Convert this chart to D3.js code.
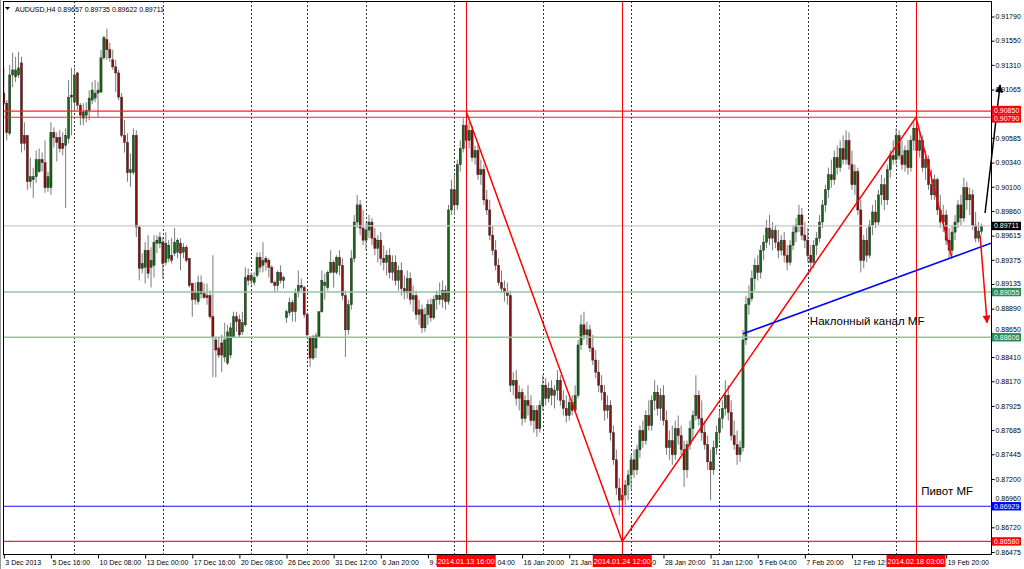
<!DOCTYPE html>
<html><head><meta charset="utf-8">
<script src="https://cdn.jsdelivr.net/npm/d3@7"></script>
<style>body{margin:0;background:#fff}svg{display:block}text{font-family:"Liberation Sans",Arial,sans-serif}</style>
</head><body><svg id="c" width="1024" height="569"></svg>
<script>
// ---- data (AUDUSD H4), one value per candle ----
const open = [0.9103,0.9093,0.9063,0.9121,0.9119,0.9121,0.9133,0.9061,0.9061,0.9015,0.9017,0.9020,0.9025,0.9037,0.9034,0.9009,0.9009,0.9064,0.9059,0.9059,0.9053,0.9051,0.9058,0.9101,0.9094,0.9123,0.9091,0.9078,0.9081,0.9086,0.9096,0.9098,0.9103,0.9104,0.9138,0.9156,0.9146,0.9136,0.9129,0.9123,0.9099,0.9061,0.9054,0.9024,0.9024,0.9061,0.8970,0.8929,0.8930,0.8947,0.8930,0.8932,0.8954,0.8954,0.8955,0.8935,0.8939,0.8942,0.8944,0.8945,0.8954,0.8945,0.8950,0.8939,0.8914,0.8898,0.8896,0.8915,0.8904,0.8902,0.8902,0.8881,0.8858,0.8850,0.8855,0.8841,0.8835,0.8843,0.8861,0.8881,0.8878,0.8866,0.8873,0.8922,0.8917,0.8915,0.8922,0.8940,0.8932,0.8939,0.8937,0.8930,0.8915,0.8912,0.8925,0.8917,0.8880,0.8885,0.8895,0.8886,0.8905,0.8912,0.8910,0.8883,0.8861,0.8840,0.8850,0.8861,0.8886,0.8912,0.8910,0.8925,0.8935,0.8925,
0.8940,0.8932,0.8902,0.8868,0.8893,0.8939,0.8975,0.8992,0.8969,0.8957,
0.8967,0.8975,0.8959,0.8949,0.8957,0.8939,0.8935,0.8942,0.8925,0.8935,
0.8917,0.8927,0.8909,0.8905,0.8919,0.8898,0.8902,0.8883,0.8888,0.8870,
0.8883,0.8893,0.8880,0.8898,0.8902,0.8898,0.8907,0.8896,0.8987,0.9007,
0.8992,0.9032,0.9048,0.9071,0.9056,0.9066,0.9039,0.9046,0.9022,0.9027,
0.8997,0.8987,0.8962,0.8947,0.8932,0.8915,0.8909,0.8905,0.8902,0.8813,
0.8818,0.8800,0.8806,0.8780,0.8798,0.8793,0.8778,0.8788,0.8770,0.8793,
0.8813,0.8800,0.8810,0.8803,0.8808,0.8818,0.8798,0.8790,0.8783,0.8796,
0.8788,0.8803,0.8853,0.8873,0.8863,0.8868,0.8850,0.8838,0.8826,0.8813,
0.8806,0.8788,0.8793,0.8766,0.8739,0.8711,0.8699,0.8704,0.8714,0.8724,
0.8739,0.8729,0.8749,0.8768,0.8758,0.8783,0.8773,0.8798,0.8806,0.8790,
0.8803,0.8778,0.8751,0.8758,0.8744,0.8770,0.8763,0.8749,0.8729,0.8754,
0.8770,0.8783,0.8803,0.8780,0.8766,0.8754,0.8737,0.8729,0.8751,0.8766,
0.8780,0.8790,0.8803,0.8786,0.8763,0.8754,0.8744,0.8751,0.8858,0.8893,
0.8899,0.8919,0.8932,0.8925,0.8947,0.8955,0.8969,0.8959,0.8967,0.8955,
0.8947,0.8957,0.8942,0.8935,0.8952,0.8965,0.8972,0.8982,0.8962,0.8957,
0.8942,0.8935,0.8952,0.8959,0.8975,0.8992,0.9007,0.9022,0.9017,0.9039,
0.9029,0.9048,0.9037,0.9056,0.9032,0.9012,0.9025,0.8987,0.8937,0.8957,
0.8942,0.8972,0.8985,0.8975,0.9002,0.9012,0.8997,0.9027,0.9041,0.9037,
0.9061,0.9041,0.9032,0.9046,0.9029,0.9056,0.9068,0.9046,0.9056,0.9029,
0.9037,0.9012,0.9002,0.9017,0.8987,0.8975,0.8982,0.8957,0.8947,0.8965,
0.8975,0.8992,0.8979,0.9009,0.8997,0.9002,0.8972,0.8959,0.89657];
const high = [0.9128,0.9096,0.9131,0.9143,0.9139,0.9144,0.9139,0.9074,0.9061,0.9039,0.9029,0.9046,0.9048,0.9044,0.9056,0.9025,0.9074,0.9069,0.9064,0.9066,0.9064,0.9068,0.9116,0.9128,0.9128,0.9124,0.9093,0.9093,0.9094,0.9106,0.9114,0.9116,0.9114,0.9146,0.9160,0.9167,0.9153,0.9146,0.9136,0.9126,0.9103,0.9076,0.9063,0.9043,0.9068,0.9066,0.8972,0.8944,0.8955,0.8962,0.8950,0.8962,0.8962,0.8965,0.8960,0.8965,0.8957,0.8959,0.8969,0.8959,0.8959,0.8954,0.8952,0.8939,0.8915,0.8915,0.8922,0.8922,0.8914,0.8914,0.8907,0.8942,0.8860,0.8860,0.8863,0.8875,0.8873,0.8875,0.8886,0.8886,0.8883,0.8886,0.8930,0.8929,0.8925,0.8925,0.8945,0.8945,0.8955,0.8941,0.8939,0.8932,0.8917,0.8927,0.8932,0.8922,0.8888,0.8900,0.8898,0.8909,0.8927,0.8919,0.8912,0.8885,0.8861,0.8863,0.8865,0.8886,0.8927,0.8924,0.8927,0.8947,0.8937,0.8942,
0.8947,0.8939,0.8907,0.8898,0.8947,0.8982,0.9002,0.8997,0.8987,0.8975,
0.8982,0.8979,0.8969,0.8962,0.8965,0.8952,0.8947,0.8949,0.8942,0.8942,
0.8932,0.8935,0.8922,0.8927,0.8925,0.8912,0.8907,0.8898,0.8893,0.8890,
0.8898,0.8899,0.8902,0.8907,0.8915,0.8917,0.8912,0.8992,0.9017,0.9022,
0.9037,0.9056,0.9078,0.9076,0.9074,0.9071,0.9051,0.9051,0.9037,0.9032,
0.9007,0.8997,0.8972,0.8957,0.8939,0.8927,0.8917,0.8915,0.8907,0.8826,
0.8828,0.8813,0.8810,0.8803,0.8813,0.8803,0.8793,0.8793,0.8798,0.8823,
0.8820,0.8816,0.8818,0.8813,0.8828,0.8823,0.8808,0.8803,0.8800,0.8803,
0.8813,0.8858,0.8883,0.8886,0.8876,0.8873,0.8863,0.8848,0.8838,0.8823,
0.8813,0.8803,0.8798,0.8773,0.8749,0.8721,0.8714,0.8719,0.8729,0.8744,
0.8749,0.8754,0.8773,0.8778,0.8788,0.8798,0.8803,0.8818,0.8813,0.8810,
0.8813,0.8788,0.8768,0.8773,0.8778,0.8783,0.8773,0.8758,0.8758,0.8778,
0.8788,0.8823,0.8808,0.8798,0.8778,0.8763,0.8749,0.8758,0.8773,0.8788,
0.8798,0.8818,0.8813,0.8798,0.8778,0.8768,0.8758,0.8868,0.8902,0.8912,
0.8927,0.8939,0.8942,0.8952,0.8962,0.8977,0.8982,0.8975,0.8972,0.8967,
0.8962,0.8965,0.8952,0.8957,0.8972,0.8979,0.8992,0.8989,0.8975,0.8969,
0.8952,0.8957,0.8965,0.8982,0.8997,0.9012,0.9029,0.9037,0.9046,0.9051,
0.9056,0.9061,0.9066,0.9064,0.9046,0.9032,0.9029,0.8997,0.8962,0.8969,
0.8977,0.8992,0.8997,0.9007,0.9022,0.9019,0.9032,0.9046,0.9056,0.9068,
0.9066,0.9056,0.9051,0.9056,0.9061,0.9074,0.9071,0.9064,0.9061,0.9046,
0.9041,0.9027,0.9022,0.9019,0.9002,0.8992,0.8987,0.8969,0.8972,0.8982,
0.8997,0.9002,0.9019,0.9015,0.9009,0.9007,0.8985,0.8975,0.89735];
const low = [0.9091,0.9056,0.9061,0.9109,0.9114,0.9118,0.9044,0.9046,0.9007,0.9009,0.8999,0.9014,0.9024,0.9025,0.9004,0.9005,0.9002,0.9049,0.9035,0.9044,0.9041,0.8989,0.9053,0.9061,0.9086,0.9086,0.9071,0.9071,0.9074,0.9076,0.9092,0.9094,0.9079,0.9103,0.9136,0.9136,0.9134,0.9126,0.9104,0.9096,0.9059,0.9044,0.9015,0.9010,0.9022,0.8960,0.8917,0.8924,0.8914,0.8919,0.8910,0.8920,0.8944,0.8949,0.8919,0.8932,0.8935,0.8934,0.8941,0.8939,0.8927,0.8939,0.8935,0.8910,0.8881,0.8893,0.8893,0.8899,0.8899,0.8893,0.8879,0.8821,0.8821,0.8840,0.8826,0.8836,0.8833,0.8840,0.8860,0.8866,0.8860,0.8863,0.8871,0.8912,0.8913,0.8912,0.8920,0.8925,0.8925,0.8927,0.8920,0.8914,0.8905,0.8907,0.8914,0.8909,0.8875,0.8882,0.8876,0.8876,0.8900,0.8907,0.8880,0.8861,0.8831,0.8838,0.8840,0.8860,0.8885,0.8898,0.8907,0.8924,0.8910,0.8923,
0.8922,0.8898,0.8841,0.8863,0.8888,0.8935,0.8969,0.8962,0.8952,0.8947,
0.8959,0.8952,0.8942,0.8935,0.8932,0.8927,0.8922,0.8919,0.8917,0.8912,
0.8907,0.8902,0.8898,0.8899,0.8893,0.8886,0.8878,0.8873,0.8865,0.8866,
0.8873,0.8876,0.8878,0.8888,0.8893,0.8890,0.8888,0.8893,0.8982,0.8982,
0.8987,0.9025,0.9044,0.9046,0.9048,0.9035,0.9032,0.9017,0.9012,0.8992,
0.8982,0.8957,0.8942,0.8927,0.8912,0.8905,0.8896,0.8893,0.8806,0.8803,
0.8793,0.8788,0.8773,0.8776,0.8783,0.8773,0.8766,0.8762,0.8766,0.8788,
0.8793,0.8796,0.8793,0.8790,0.8798,0.8793,0.8783,0.8776,0.8778,0.8783,
0.8786,0.8800,0.8848,0.8858,0.8853,0.8846,0.8833,0.8820,0.8806,0.8798,
0.8778,0.8780,0.8758,0.8734,0.8704,0.8684,0.8687,0.8694,0.8699,0.8709,
0.8721,0.8724,0.8741,0.8751,0.8754,0.8768,0.8768,0.8788,0.8783,0.8778,
0.8773,0.8744,0.8739,0.8734,0.8739,0.8754,0.8744,0.8712,0.8721,0.8749,
0.8758,0.8778,0.8773,0.8758,0.8749,0.8729,0.8699,0.8724,0.8744,0.8758,
0.8770,0.8783,0.8778,0.8758,0.8749,0.8734,0.8737,0.8747,0.8853,0.8883,
0.8896,0.8907,0.8917,0.8919,0.8937,0.8949,0.8952,0.8947,0.8949,0.8939,
0.8942,0.8935,0.8927,0.8932,0.8947,0.8955,0.8965,0.8957,0.8949,0.8935,
0.8925,0.8929,0.8942,0.8955,0.8969,0.8985,0.8999,0.9009,0.9012,0.9022,
0.9025,0.9032,0.9032,0.9027,0.9007,0.9002,0.8982,0.8925,0.8929,0.8935,
0.8939,0.8962,0.8969,0.8972,0.8992,0.8987,0.8992,0.9019,0.9032,0.9032,
0.9037,0.9027,0.9025,0.9022,0.9025,0.9046,0.9041,0.9039,0.9025,0.9017,
0.9007,0.8997,0.8997,0.8982,0.8969,0.8965,0.8952,0.8939,0.8942,0.8957,
0.8969,0.8972,0.8975,0.8987,0.8982,0.8967,0.8955,0.8955,0.89622];
const close = [0.9093,0.9064,0.9121,0.9126,0.9126,0.9128,0.9053,0.9053,0.9015,0.9020,0.9020,0.9037,0.9037,0.9034,0.9009,0.9020,0.9064,0.9059,0.9054,0.9048,0.9048,0.9061,0.9099,0.9099,0.9121,0.9091,0.9081,0.9084,0.9086,0.9098,0.9106,0.9103,0.9106,0.9138,0.9158,0.9146,0.9138,0.9129,0.9123,0.9099,0.9061,0.9054,0.9024,0.9027,0.9061,0.8970,0.8929,0.8934,0.8947,0.8924,0.8937,0.8955,0.8957,0.8960,0.8934,0.8954,0.8952,0.8937,0.8955,0.8957,0.8944,0.8950,0.8937,0.8912,0.8898,0.8905,0.8915,0.8904,0.8900,0.8900,0.8881,0.8860,0.8848,0.8843,0.8843,0.8858,0.8866,0.8870,0.8881,0.8876,0.8863,0.8875,0.8920,0.8917,0.8922,0.8920,0.8940,0.8930,0.8937,0.8935,0.8930,0.8915,0.8912,0.8925,0.8917,0.8920,0.8886,0.8895,0.8886,0.8904,0.8912,0.8910,0.8883,0.8863,0.8840,0.8861,0.8862,0.8886,0.8917,0.8915,0.8925,0.8935,0.8925,0.8940,
0.8932,0.8902,0.8868,0.8893,0.8939,0.8975,0.8992,0.8969,0.8957,0.8967,
0.8975,0.8959,0.8949,0.8957,0.8939,0.8935,0.8942,0.8925,0.8935,0.8917,
0.8927,0.8909,0.8905,0.8919,0.8898,0.8902,0.8883,0.8888,0.8870,0.8883,
0.8893,0.8880,0.8898,0.8902,0.8898,0.8907,0.8896,0.8987,0.9007,0.8992,
0.9032,0.9048,0.9071,0.9056,0.9066,0.9039,0.9046,0.9022,0.9027,0.8997,
0.8987,0.8962,0.8947,0.8932,0.8915,0.8909,0.8905,0.8902,0.8813,0.8818,
0.8800,0.8806,0.8780,0.8798,0.8793,0.8778,0.8788,0.8770,0.8793,0.8813,
0.8800,0.8810,0.8803,0.8808,0.8818,0.8798,0.8790,0.8783,0.8796,0.8788,
0.8803,0.8853,0.8873,0.8863,0.8868,0.8850,0.8838,0.8826,0.8813,0.8806,
0.8788,0.8793,0.8766,0.8739,0.8711,0.8699,0.8704,0.8714,0.8724,0.8739,
0.8729,0.8749,0.8768,0.8758,0.8783,0.8773,0.8798,0.8806,0.8790,0.8803,
0.8778,0.8751,0.8758,0.8744,0.8770,0.8763,0.8749,0.8729,0.8754,0.8770,
0.8783,0.8803,0.8780,0.8766,0.8754,0.8737,0.8729,0.8751,0.8766,0.8780,
0.8790,0.8803,0.8786,0.8763,0.8754,0.8744,0.8751,0.8858,0.8893,0.8899,
0.8919,0.8932,0.8925,0.8947,0.8955,0.8969,0.8959,0.8967,0.8955,0.8947,
0.8957,0.8942,0.8935,0.8952,0.8965,0.8972,0.8982,0.8962,0.8957,0.8942,
0.8935,0.8952,0.8959,0.8975,0.8992,0.9007,0.9022,0.9017,0.9039,0.9029,
0.9048,0.9037,0.9056,0.9032,0.9012,0.9025,0.8987,0.8937,0.8957,0.8942,
0.8972,0.8985,0.8975,0.9002,0.9012,0.8997,0.9027,0.9041,0.9037,0.9061,
0.9041,0.9032,0.9046,0.9029,0.9056,0.9068,0.9046,0.9056,0.9029,0.9037,
0.9012,0.9002,0.9017,0.8987,0.8975,0.8982,0.8957,0.8947,0.8965,0.8975,
0.8992,0.8979,0.9009,0.8997,0.9002,0.8972,0.8959,0.8966,0.89711];

// time axis: tick bars and the label text visible beside each tick (parts hidden by the red time labels omitted)
const tickBars = [0,16,32,48,64,80,96,112,128,144,160,176,192,208,224,240,256,272,288,304,320];
const tickLabels = ["3 Dec 2013","5 Dec 16:00","10 Dec 08:00","13 Dec 00:00","17 Dec 16:00","20 Dec 08:00","26 Dec 20:00","31 Dec 12:00","6 Jan 20:00","9 J","04:00","16 Jan 20:00","21 Jan","0","28 Jan 20:00","31 Jan 12:00","5 Feb 04:00","7 Feb 20:00","12 Feb 12:","","19 Feb 20:00"];
const tickLabelShift = [0,0,0,0,0,0,0,0,0,0,21,0,0,34.5,0,0,0,0,0,0,0];
const gridBars = [24,54,84,103,123,153,183,213,243,273,303];
// price scale ticks (0.90825 is fully covered by the red level labels in the chart)
const priceTicks = [0.91790,0.91550,0.91310,0.91065,0.90585,0.90340,0.90100,0.89860,0.89615,0.89375,0.89135,0.88890,0.88650,0.88410,0.88170,0.87925,0.87685,0.87445,0.87200,0.86960,0.86720,0.86475];

// horizontal levels
const levelPrices = [0.89711,0.90850,0.90790,0.89055,0.88606,0.86929,0.86580];
const levelColors = ["#c8c8c8","#ff2020","#ff2020","#93c49f","#93c49f","#1010ff","#ff2020"];
const levelLabelBg = ["#000000","#ff0000","#ff0000","#2e8b57","#2e8b57","#0000ff","#ff0000"];
// vertical time markers
const vlineBars = [157,210,309.75];
const vlineLabels = ["2014.01.13 16:00","2014.01.24 12:00","2014.02.18 03:00"];
// zigzag (bar, price)
const zigBars = [157,210,309.75,322];
const zigPrices = [0.90850,0.86580,0.90790,0.89390];
// channel line
const chanBars = [251,335.2];
const chanPrices = [0.88640,0.89540];
// arrows
const upArrowBars = [333.2,338.3], upArrowPrices = [0.89840,0.91110];
const dnArrowBars = [331.5,333.9], dnArrowPrices = [0.89620,0.88750];
const noteTexts = ["Наклонный канал MF","Пивот MF"];
const noteBars = [273.7,311.5], notePrices = [0.88730,0.87040];

// ---- drawing ----
const svg = d3.select("#c");
const L=3, R=991, T=1, B=554;
const x = d3.scaleLinear().domain([0,332]).range([3.8, 3.8+332*2.945]);
const y = d3.scaleLinear().domain([0.86475,0.91790]).range([552,16.5]);

svg.append("rect").attr("width",1024).attr("height",569).attr("fill","#fff");
const defs = svg.append("defs");
defs.append("clipPath").attr("id","clip").append("rect").attr("x",L).attr("y",T).attr("width",R-L).attr("height",B-T);
function marker(id,col){
  defs.append("marker").attr("id",id).attr("viewBox","0 0 10 10").attr("refX",9).attr("refY",5)
    .attr("markerUnits","userSpaceOnUse").attr("markerWidth",11).attr("markerHeight",8).attr("orient","auto")
    .append("path").attr("d","M0,0L10,5L0,10z").attr("fill",col);
}
marker("ahB","#000"); marker("ahR","#ff0000");

const plot = svg.append("g").attr("clip-path","url(#clip)");
// grid
plot.append("g").selectAll("line").data(gridBars).join("line")
  .attr("x1",d=>Math.round(x(d))+0.5).attr("x2",d=>Math.round(x(d))+0.5).attr("y1",T).attr("y2",B)
  .style("stroke","#333").attr("stroke-dasharray","2,2").attr("stroke-width",1);

// candles
const idx = d3.range(open.length);
const cg = plot.append("g");
cg.selectAll("line").data(idx).join("line")
  .attr("x1",i=>x(i)).attr("x2",i=>x(i)).attr("y1",i=>y(high[i])).attr("y2",i=>y(low[i]))
  .style("stroke","#7a7a7a").attr("stroke-width",1);
cg.selectAll("rect").data(idx).join("rect")
  .attr("x",i=>x(i)-1.1).attr("width",2.2)
  .attr("y",i=>y(Math.max(open[i],close[i])))
  .attr("height",i=>Math.max(1,Math.abs(y(open[i])-y(close[i]))))
  .style("fill",i=>close[i]>=open[i]?"#176317":"#8a1010")
  .style("stroke","#222").attr("stroke-width",0.4);

// levels
plot.append("g").selectAll("line").data(levelPrices).join("line")
  .attr("x1",L).attr("x2",R).attr("y1",d=>y(d)).attr("y2",d=>y(d))
  .style("stroke",(d,i)=>levelColors[i]).attr("stroke-width",(d,i)=>i>=3&&i<=4?1.6:1.2);
plot.append("g").selectAll("line").data(vlineBars).join("line")
  .attr("x1",d=>Math.round(x(d))+0.5).attr("x2",d=>Math.round(x(d))+0.5).attr("y1",T).attr("y2",B)
  .style("stroke","#ff0000").attr("stroke-width",1);

// zigzag, channel, arrows
const line = d3.line().x(d=>x(d[0])).y(d=>y(d[1]));
plot.append("path").attr("d",line(zigBars.map((b,i)=>[b,zigPrices[i]])))
  .attr("fill","none").style("stroke","#ff0000").attr("stroke-width",1.5);
plot.append("path").attr("d",line(chanBars.map((b,i)=>[b,chanPrices[i]])))
  .attr("fill","none").style("stroke","#0000ff").attr("stroke-width",1.6);
svg.append("path").attr("d",line(dnArrowBars.map((b,i)=>[b,dnArrowPrices[i]])))
  .attr("fill","none").style("stroke","#ff0000").attr("stroke-width",1.5).attr("marker-end","url(#ahR)");
svg.append("path").attr("d",line(upArrowBars.map((b,i)=>[b,upArrowPrices[i]])))
  .attr("fill","none").style("stroke","#000").attr("stroke-width",1.5).attr("marker-end","url(#ahB)");

svg.append("g").selectAll("text").data(noteTexts).join("text")
  .attr("x",(d,i)=>x(noteBars[i])).attr("y",(d,i)=>y(notePrices[i])).attr("font-size","11.5px").attr("fill","#000").text(d=>d);

// frame
svg.append("rect").attr("x",L+0.5).attr("y",T+0.5).attr("width",R-L).attr("height",B-T)
  .attr("fill","none").style("stroke","#000").attr("stroke-width",1);
svg.append("line").attr("x1",0.5).attr("x2",0.5).attr("y1",0).attr("y2",569).style("stroke","#999");

// level label centres: push apart labels that would collide
const labelH = 8.4;
const labelY = levelPrices.map(p=>y(p));
const order = d3.range(labelY.length).sort((a,b)=>labelY[a]-labelY[b]);
for (let k=1;k<order.length;k++){
  const a=order[k-1], b=order[k];
  const gap = labelY[b]-labelY[a];
  if (gap < labelH){ const d=(labelH-gap)/2; labelY[a]-=d; labelY[b]+=d; }
}

// axes
const ya = d3.axisRight(y).tickValues(priceTicks).tickFormat(d3.format(".5f")).tickSize(3).tickPadding(1);
const yg = svg.append("g").attr("transform",`translate(${R+0.5},0)`).call(ya);
yg.select(".domain").remove();
yg.selectAll("text").attr("font-size","7px").attr("font-family","Liberation Sans, Arial").attr("fill","#000")
  .attr("transform",d=>{
    const yt=y(d); let s=0;
    labelY.forEach(yl=>{ if (yl>yt && yl-yt<labelH) s=Math.min(s,(yl-labelH)-yt); });
    return `translate(0,${s})`;
  });
const xa = d3.axisBottom(x).tickValues(tickBars).tickFormat((d,i)=>tickLabels[i]).tickSize(4);
const xg = svg.append("g").attr("transform",`translate(0,${B+0.5})`).call(xa);
xg.select(".domain").remove();
xg.selectAll("text").attr("font-size","7px").attr("text-anchor","start")
  .attr("dx",(d,i)=>1+tickLabelShift[i]).attr("dy","0.45em").attr("fill","#000");

// price marker labels
levelPrices.forEach((p,i)=>{
  const yy = labelY[i];
  svg.append("rect").attr("x",R+1).attr("y",yy-labelH/2).attr("width",29).attr("height",labelH).style("fill",levelLabelBg[i]);
  svg.append("text").attr("x",R+3).attr("y",yy+2.5).attr("font-size","7px").attr("fill","#fff").text(d3.format(".5f")(p));
});
// time marker labels
vlineBars.forEach((b,i)=>{
  const xx = x(b);
  svg.append("rect").attr("x",xx-29.5).attr("y",B+1).attr("width",59).attr("height",12).style("fill","#ff0000");
  svg.append("text").attr("x",xx).attr("y",B+10).attr("text-anchor","middle").attr("font-size","7.3px").attr("fill","#fff").text(vlineLabels[i]);
});

// title
svg.append("path").attr("d","M5,7L10,7L7.5,10z").attr("fill","#000");
svg.append("text").attr("x",15).attr("y",11.5).attr("font-size","7px").attr("fill","#000")
  .text("AUDUSD,H4  0.89657 0.89735 0.89622 0.89711");
</script></body></html>
